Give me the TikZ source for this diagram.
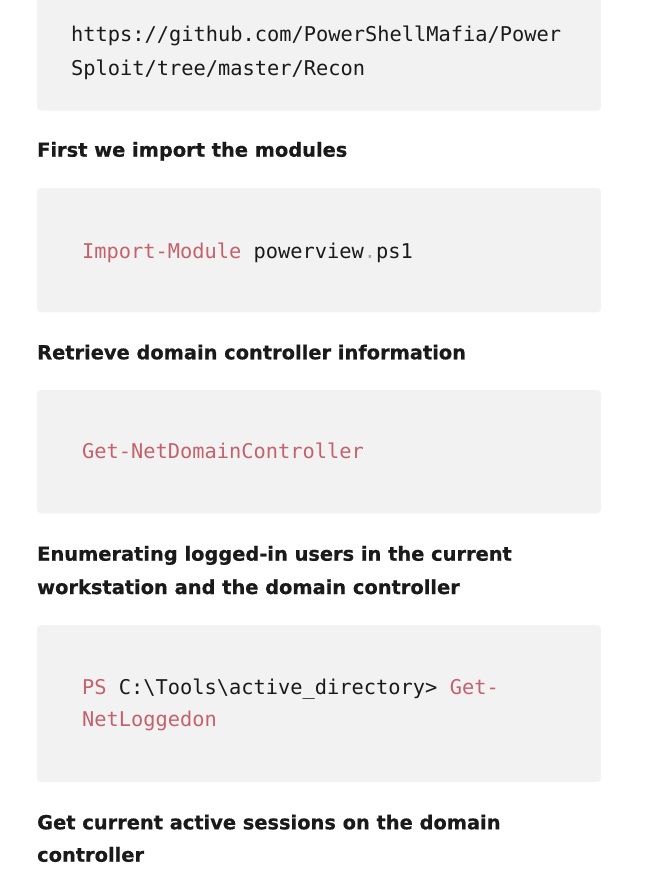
\documentclass[tikz,border=0pt]{standalone}
\usepackage{fontspec}
\setsansfont{DejaVu Sans}
\setmonofont{DejaVu Sans Mono}
\newfontfamily\headfont[FakeBold=0.6]{DejaVu Sans Bold}
\definecolor{codebg}{HTML}{F2F2F2}
\definecolor{kwred}{RGB}{196,98,108}
\definecolor{ink}{HTML}{1A1A1A}
\newcommand{\kwd}[1]{\textcolor{kwred}{#1}}
\newcommand{\pnc}[1]{\textcolor{gray!70}{#1}}
\tikzset{
  code/.style={anchor=base west, inner sep=0pt, text=ink,
    font=\ttfamily\fontsize{20.35}{24}\selectfont},
  head/.style={anchor=base west, inner sep=0pt, text=ink,
    font=\headfont\fontsize{19.4}{24}\selectfont},
  codebox/.style={fill=codebg, rounded corners=4pt}
}

\begin{document}
\begin{tikzpicture}[x=1pt,y=-1pt]
\clip (0,0) rectangle (654,872);
\fill[white] (0,0) rectangle (654,872);

% code boxes
\fill[codebox] (37,-10) rectangle (601,110.7);
\fill[codebox] (37,188) rectangle (601,312.3);
\fill[codebox] (37,390) rectangle (601,513.3);
\fill[codebox] (37,625) rectangle (601,782);

% first box
\node[code] (url1) at (71,41.7) {https://github.com/PowerShellMafia/Power};
\node[code] (url2) at (71,76) {Sploit/tree/master/Recon};

\node[head] (h1) at (37,156.7) {First we import the modules};
\node[code] (imp) at (82,258.3) {\kwd{Import-Module} powerview\pnc{.}ps1};

\node[head] (h2) at (37,359.3) {Retrieve domain controller information};
\node[code] (dc) at (82,458) {\kwd{Get-NetDomainController}};

\node[head] (h3a) at (37,560.7) {Enumerating logged-in users in the current};
\node[head] (h3b) at (37,594) {workstation and the domain controller};
\node[code] (ps1) at (82,694) {\kwd{PS} C:\textbackslash Tools\textbackslash active\_directory> \kwd{Get-}};
\node[code] (ps2) at (82,726.7) {\kwd{NetLoggedon}};

\node[head] (h4a) at (37,829.3) {Get current active sessions on the domain};
\node[head] (h4b) at (37,861.7) {controller};
\end{tikzpicture}
\end{document}
